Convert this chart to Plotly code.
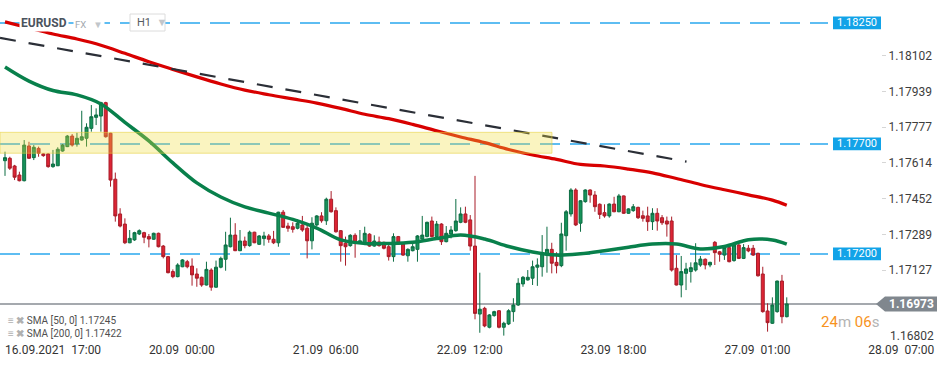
import plotly.graph_objects as go

# ---------------- data (EURUSD, H1 candles) ----------------
open_ = [1.17624, 1.17635, 1.17600, 1.17559, 1.17533, 1.17691, 1.17638, 1.17680, 1.17655, 1.17655,
         1.17597, 1.17601, 1.17668, 1.17688, 1.17736, 1.17700, 1.17718, 1.17726, 1.17771, 1.17821,
         1.17827, 1.17888, 1.17749, 1.17540, 1.17382, 1.17336, 1.17251, 1.17264, 1.17291, 1.17297,
         1.17279, 1.17267, 1.17294, 1.17236, 1.17188, 1.17120, 1.17097, 1.17142, 1.17165, 1.17145,
         1.17109, 1.17094, 1.17059, 1.17127, 1.17049, 1.17140, 1.17176, 1.17233, 1.17286, 1.17215,
         1.17259, 1.17238, 1.17299, 1.17244, 1.17270, 1.17282, 1.17267, 1.17251, 1.17390, 1.17327,
         1.17324, 1.17317, 1.17332, 1.17317, 1.17260, 1.17332, 1.17373, 1.17351, 1.17449, 1.17397,
         1.17306, 1.17249, 1.17238, 1.17285, 1.17251, 1.17251, 1.17290, 1.17236, 1.17255, 1.17253,
         1.17233, 1.17188, 1.17279, 1.17245, 1.17192, 1.17215, 1.17221, 1.17268, 1.17279, 1.17350,
         1.17279, 1.17336, 1.17256, 1.17291, 1.17306, 1.17344, 1.17382, 1.17355, 1.17236, 1.16927,
         1.16953, 1.16867, 1.16920, 1.16942, 1.16867, 1.16882, 1.16938, 1.16968, 1.17064, 1.17082,
         1.17090, 1.17140, 1.17142, 1.17195, 1.17221, 1.17162, 1.17147, 1.17283, 1.17382, 1.17491,
         1.17340, 1.17438, 1.17491, 1.17468, 1.17426, 1.17388, 1.17373, 1.17427, 1.17392, 1.17464,
         1.17385, 1.17397, 1.17412, 1.17374, 1.17373, 1.17347, 1.17385, 1.17365, 1.17350, 1.17350,
         1.17135, 1.17059, 1.17112, 1.17120, 1.17127, 1.17150, 1.17176, 1.17150, 1.17253, 1.17210,
         1.17195, 1.17229, 1.17170, 1.17241, 1.17180, 1.17226, 1.17226, 1.17203, 1.17109, 1.16941,
         1.16885, 1.16938, 1.17077, 1.16915]
high = [1.17665, 1.17642, 1.17605, 1.17574, 1.17718, 1.17710, 1.17695, 1.17688, 1.17658, 1.17658,
        1.17673, 1.17685, 1.17700, 1.17741, 1.17745, 1.17751, 1.17851, 1.17794, 1.17877, 1.17862,
        1.17892, 1.17892, 1.17751, 1.17570, 1.17408, 1.17362, 1.17309, 1.17301, 1.17312, 1.17301,
        1.17291, 1.17297, 1.17297, 1.17241, 1.17191, 1.17130, 1.17158, 1.17177, 1.17173, 1.17180,
        1.17135, 1.17097, 1.17165, 1.17135, 1.17170, 1.17188, 1.17301, 1.17365, 1.17340, 1.17309,
        1.17279, 1.17306, 1.17301, 1.17286, 1.17301, 1.17291, 1.17305, 1.17392, 1.17400, 1.17342,
        1.17344, 1.17358, 1.17373, 1.17332, 1.17367, 1.17377, 1.17390, 1.17456, 1.17486, 1.17412,
        1.17309, 1.17279, 1.17290, 1.17294, 1.17309, 1.17324, 1.17294, 1.17285, 1.17279, 1.17256,
        1.17241, 1.17294, 1.17282, 1.17249, 1.17226, 1.17256, 1.17286, 1.17373, 1.17347, 1.17370,
        1.17350, 1.17340, 1.17327, 1.17327, 1.17450, 1.17412, 1.17415, 1.17377, 1.17555, 1.17115,
        1.16960, 1.16927, 1.16942, 1.16945, 1.16892, 1.16949, 1.16999, 1.17090, 1.17100, 1.17127,
        1.17170, 1.17180, 1.17286, 1.17324, 1.17251, 1.17208, 1.17342, 1.17400, 1.17499, 1.17499,
        1.17445, 1.17494, 1.17494, 1.17486, 1.17430, 1.17426, 1.17430, 1.17460, 1.17473, 1.17466,
        1.17408, 1.17427, 1.17415, 1.17397, 1.17415, 1.17408, 1.17408, 1.17377, 1.17370, 1.17370,
        1.17195, 1.17191, 1.17160, 1.17162, 1.17249, 1.17191, 1.17180, 1.17165, 1.17259, 1.17214,
        1.17241, 1.17233, 1.17245, 1.17245, 1.17245, 1.17241, 1.17241, 1.17206, 1.17142, 1.16976,
        1.17003, 1.17079, 1.17105, 1.17003]
low = [1.17555, 1.17582, 1.17536, 1.17530, 1.17530, 1.17632, 1.17627, 1.17642, 1.17642, 1.17592,
       1.17592, 1.17600, 1.17665, 1.17686, 1.17688, 1.17688, 1.17715, 1.17688, 1.17756, 1.17786,
       1.17756, 1.17729, 1.17506, 1.17347, 1.17321, 1.17245, 1.17249, 1.17260, 1.17286, 1.17249,
       1.17230, 1.17264, 1.17230, 1.17180, 1.17112, 1.17090, 1.17094, 1.17140, 1.17135, 1.17056,
       1.17051, 1.17051, 1.17057, 1.17033, 1.17047, 1.17135, 1.17124, 1.17230, 1.17213, 1.17213,
       1.17226, 1.17233, 1.17249, 1.17241, 1.17238, 1.17251, 1.17245, 1.17233, 1.17320, 1.17301,
       1.17297, 1.17312, 1.17301, 1.17180, 1.17221, 1.17327, 1.17342, 1.17332, 1.17388, 1.17297,
       1.17165, 1.17147, 1.17233, 1.17183, 1.17249, 1.17249, 1.17233, 1.17233, 1.17233, 1.17221,
       1.17170, 1.17165, 1.17241, 1.17191, 1.17165, 1.17212, 1.17165, 1.17264, 1.17276, 1.17276,
       1.17276, 1.17241, 1.17253, 1.17271, 1.17301, 1.17340, 1.17340, 1.17215, 1.16903, 1.16842,
       1.16867, 1.16862, 1.16915, 1.16862, 1.16829, 1.16877, 1.16892, 1.16964, 1.17051, 1.17079,
       1.17059, 1.17055, 1.17097, 1.17115, 1.17112, 1.17112, 1.17140, 1.17215, 1.17370, 1.17327,
       1.17301, 1.17433, 1.17433, 1.17392, 1.17359, 1.17365, 1.17365, 1.17390, 1.17390, 1.17382,
       1.17382, 1.17392, 1.17359, 1.17347, 1.17305, 1.17309, 1.17306, 1.17332, 1.17279, 1.17120,
       1.17057, 1.17003, 1.17036, 1.17070, 1.17120, 1.17142, 1.17130, 1.17140, 1.17150, 1.17165,
       1.17173, 1.17162, 1.17165, 1.17177, 1.17177, 1.17208, 1.17191, 1.17097, 1.16933, 1.16847,
       1.16882, 1.16933, 1.16885, 1.16912]
close = [1.17638, 1.17590, 1.17549, 1.17533, 1.17695, 1.17635, 1.17685, 1.17658, 1.17647, 1.17597,
         1.17609, 1.17676, 1.17695, 1.17736, 1.17695, 1.17726, 1.17733, 1.17776, 1.17824, 1.17832,
         1.17888, 1.17733, 1.17536, 1.17373, 1.17327, 1.17251, 1.17271, 1.17297, 1.17306, 1.17276,
         1.17268, 1.17294, 1.17233, 1.17188, 1.17115, 1.17097, 1.17150, 1.17173, 1.17142, 1.17105,
         1.17090, 1.17059, 1.17130, 1.17049, 1.17140, 1.17180, 1.17241, 1.17286, 1.17215, 1.17259,
         1.17238, 1.17299, 1.17251, 1.17282, 1.17282, 1.17267, 1.17251, 1.17390, 1.17321, 1.17317,
         1.17312, 1.17340, 1.17309, 1.17260, 1.17340, 1.17373, 1.17351, 1.17449, 1.17392, 1.17301,
         1.17238, 1.17233, 1.17285, 1.17251, 1.17260, 1.17294, 1.17236, 1.17259, 1.17238, 1.17226,
         1.17188, 1.17279, 1.17245, 1.17195, 1.17221, 1.17233, 1.17282, 1.17286, 1.17344, 1.17279,
         1.17336, 1.17256, 1.17294, 1.17309, 1.17350, 1.17382, 1.17344, 1.17236, 1.16930, 1.16949,
         1.16873, 1.16923, 1.16938, 1.16867, 1.16885, 1.16942, 1.16968, 1.17067, 1.17094, 1.17094,
         1.17142, 1.17150, 1.17203, 1.17221, 1.17158, 1.17147, 1.17291, 1.17392, 1.17491, 1.17332,
         1.17442, 1.17491, 1.17468, 1.17415, 1.17380, 1.17373, 1.17427, 1.17392, 1.17464, 1.17385,
         1.17405, 1.17415, 1.17365, 1.17362, 1.17347, 1.17385, 1.17350, 1.17342, 1.17336, 1.17127,
         1.17059, 1.17120, 1.17132, 1.17138, 1.17160, 1.17177, 1.17150, 1.17162, 1.17206, 1.17199,
         1.17229, 1.17165, 1.17241, 1.17180, 1.17229, 1.17214, 1.17195, 1.17101, 1.16938, 1.16888,
         1.16968, 1.17077, 1.16915, 1.16973]
bar_index = list(range(len(close)))

# moving averages, read at every 5th candle
sma_index = [0, 5, 10, 15, 20, 25, 30, 35, 40, 45, 50, 55, 60, 65, 70, 75, 80, 85, 90, 95,
             100, 105, 110, 115, 120, 125, 130, 135, 140, 145, 150, 155, 160, 163]
sma50 = [1.18050, 1.17986, 1.17943, 1.17923, 1.17882, 1.17798, 1.17714, 1.17614, 1.17523, 1.17459,
         1.17414, 1.17386, 1.17357, 1.17318, 1.17264, 1.17248, 1.17248, 1.17253, 1.17270, 1.17286,
         1.17268, 1.17234, 1.17209, 1.17195, 1.17201, 1.17215, 1.17231, 1.17245, 1.17245, 1.17223,
         1.17234, 1.17265, 1.17264, 1.17245]
sma200 = [1.18255, 1.18227, 1.18200, 1.18177, 1.18149, 1.18112, 1.18074, 1.18039, 1.18005, 1.17973,
          1.17945, 1.17924, 1.17905, 1.17886, 1.17862, 1.17835, 1.17815, 1.17789, 1.17760, 1.17732,
          1.17706, 1.17675, 1.17650, 1.17630, 1.17607, 1.17600, 1.17586, 1.17569, 1.17543, 1.17516,
          1.17492, 1.17469, 1.17445, 1.17422]

# drawn objects
trend_index = [-1.04, 142.1]
trend_price = [1.18182, 1.17620]
zone_index = [-1.04, 114.05]
zone_price = [1.17658, 1.17753]
levels = [1.18250, 1.17700, 1.17200]
level_labels = ["1.18250", "1.17700", "1.17200"]
last_price = 1.16973

ytick_vals = [1.18102, 1.17939, 1.17777, 1.17614, 1.17452, 1.17289, 1.17127]
ytick_text = ["1.18102", "1.17939", "1.17777", "1.17614", "1.17452", "1.17289", "1.17127"]
ybottom_label = "1.16802"
xtick_vals = [0, 30, 60, 90, 120, 150, 180]
xtick_text = ["16.09.2021\u00a0\u00a017:00", "20.09\u00a0\u00a000:00", "21.09\u00a0\u00a006:00",
              "22.09\u00a0\u00a012:00", "23.09\u00a0\u00a018:00", "27.09\u00a0\u00a001:00",
              "28.09\u00a0\u00a007:00"]

# ---------------- layout geometry ----------------
W, H = 950, 367
PLOT_W, PLOT_H = 881, 341
X_RANGE = [-1.043, 182.65]
Y_RANGE = [1.168045, 1.183545]
FONT = "Roboto, Arial, sans-serif"

def px(xp):
    return xp / PLOT_W

def py(yp):
    return 1 - yp / PLOT_H

fig = go.Figure()

fig.add_trace(go.Scatter(x=sma_index, y=sma200, mode="lines", line=dict(color="#d80000", width=3.2, shape="spline"),
                         hoverinfo="skip"))
fig.add_trace(go.Scatter(x=sma_index, y=sma50, mode="lines", line=dict(color="#08804b", width=3.5, shape="spline"),
                         hoverinfo="skip"))
fig.add_trace(go.Scatter(x=trend_index, y=trend_price, mode="lines",
                         line=dict(color="#2b2f37", width=2.2, dash="16px,13px"), hoverinfo="skip"))
fig.add_trace(go.Candlestick(
    x=bar_index, open=open_, high=high, low=low, close=close,
    increasing=dict(fillcolor="#16935a", line=dict(color="#0c6d43", width=1)),
    decreasing=dict(fillcolor="#dd2434", line=dict(color="#a81c28", width=1)),
    whiskerwidth=0,
))

shapes = []
for lv in levels:
    shapes.append(dict(type="line", xref="paper", yref="y", x0=0, x1=px(828), y0=lv, y1=lv,
                       line=dict(color="#2aa8ee", width=1.6, dash="20px,10px"), layer="below"))
shapes.append(dict(type="line", xref="paper", yref="y", x0=0, x1=px(877), y0=last_price, y1=last_price,
                   line=dict(color="#878d93", width=1.5), layer="below"))
shapes.append(dict(type="rect", xref="x", yref="y", x0=zone_index[0], x1=zone_index[1],
                   y0=zone_price[0], y1=zone_price[1],
                   fillcolor="rgba(238,220,60,0.32)", line=dict(color="rgba(232,205,60,0.55)", width=1),
                   layer="above"))
for lv in levels:
    shapes.append(dict(type="rect", xref="paper", yref="y", x0=px(833), x1=1.0,
                       y0=lv - 0.00029, y1=lv + 0.00029, fillcolor="#12a3e8", line=dict(width=0),
                       layer="above"))
yp = (last_price - Y_RANGE[0]) / (Y_RANGE[1] - Y_RANGE[0])
hh = 7.5 / PLOT_H
shapes.append(dict(type="path", xref="paper", yref="paper",
                   path=f"M {px(876)},{yp} L {px(885)},{yp + hh} L {px(937)},{yp + hh} "
                        f"L {px(937)},{yp - hh} L {px(885)},{yp - hh} Z",
                   fillcolor="#80878e", line=dict(width=0), layer="above"))
shapes.append(dict(type="rect", xref="paper", yref="paper", x0=px(130), x1=px(165), y0=py(31), y1=py(14),
                   fillcolor="white", line=dict(color="#dcdcdc", width=1), layer="above"))

annotations = []
for lv, lab in zip(levels, level_labels):
    annotations.append(dict(x=px(857), xref="paper", y=lv, yref="y", text=lab, showarrow=False,
                            font=dict(family=FONT, size=11, color="white"), xanchor="center", yanchor="middle"))
annotations.append(dict(x=px(911), xref="paper", y=last_price, yref="y", text="<b>1.16973</b>", showarrow=False,
                        font=dict(family=FONT, size=12, color="white"), xanchor="center", yanchor="middle"))
annotations.append(dict(x=1.0, xref="paper", xshift=7, y=py(336), yref="paper", text=ybottom_label,
                        showarrow=False, font=dict(family=FONT, size=12, color="#3d3d3d"),
                        xanchor="left", yanchor="middle"))
annotations.append(dict(x=1.0, xref="paper", y=py(322), yref="paper",
                        text='<span style="color:#f7931e">24</span><span style="color:#b4b4b4">m</span> '
                             '<span style="color:#f7931e">06</span><span style="color:#b4b4b4">s</span>',
                        showarrow=False, font=dict(family=FONT, size=15), xanchor="right", yanchor="middle"))
annotations.append(dict(x=px(19), xref="paper", y=py(23), yref="paper",
                        text='<b>EURUSD</b>', showarrow=False, bgcolor="white", borderpad=1,
                        font=dict(family=FONT, size=12, color="#4b535d"), xanchor="left", yanchor="middle"))
annotations.append(dict(x=px(73), xref="paper", y=py(24), yref="paper",
                        text='FX\u00a0\u00a0\u00a0<span style="color:#c2c6ca">▼</span>', showarrow=False,
                        bgcolor="white", borderpad=1,
                        font=dict(family=FONT, size=9.5, color="#a2a8ae"), xanchor="left", yanchor="middle"))
annotations.append(dict(x=px(135), xref="paper", y=py(23), yref="paper",
                        text='H1\u00a0\u00a0<span style="color:#c2c6ca">▼</span>', showarrow=False,
                        font=dict(family=FONT, size=11, color="#555b61"), xanchor="left", yanchor="middle"))
for ypx, lab in [(320, "SMA [50, 0] 1.17245"), (333, "SMA [200, 0] 1.17422")]:
    annotations.append(dict(x=px(6), xref="paper", y=py(ypx), yref="paper",
                            text='<span style="color:#b0b0b0"><b>≡ ✖</b></span> ' + lab,
                            showarrow=False,
                            font=dict(family=FONT, size=10, color="#505050"), xanchor="left", yanchor="middle"))

fig.update_layout(
    width=W, height=H,
    margin=dict(l=0, r=W - PLOT_W, t=0, b=H - PLOT_H),
    paper_bgcolor="white", plot_bgcolor="white",
    showlegend=False,
    boxgap=0.38, boxgroupgap=0,
    shapes=shapes, annotations=annotations,
    font=dict(family=FONT),
    xaxis=dict(range=X_RANGE, showgrid=False, zeroline=False, showline=False, rangeslider=dict(visible=False),
               tickvals=xtick_vals, ticktext=xtick_text, ticks="", ticklabelposition="outside right",
               tickfont=dict(family=FONT, size=12, color="#333333")),
    yaxis=dict(range=Y_RANGE, side="right", showgrid=False, zeroline=False, showline=False,
               tickvals=ytick_vals, ticktext=ytick_text, ticks="outside", ticklen=4, tickcolor="#d6d6d6",
               tickfont=dict(family=FONT, size=12, color="#3d3d3d")),
)

fig.write_html("out.html", config={"displayModeBar": False},
               post_script="document.body.style.margin='0px';")
